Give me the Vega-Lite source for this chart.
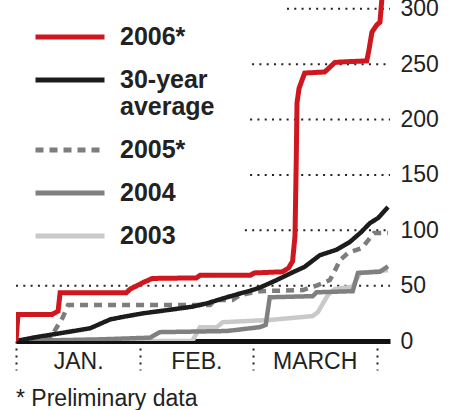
{
  "$schema": "https://vega.github.io/schema/vega-lite/v6.json",
  "width": 374,
  "height": 341,
  "autosize": {"type": "none"},
  "padding": {"left": 16, "top": 0, "right": 62, "bottom": 69},
  "background": "white",
  "config": {"view": {"stroke": null}, "font": "Liberation Sans"},
  "title": {"text": "* Preliminary data", "orient": "bottom", "anchor": "start", "frame": "group", "fontSize": 23, "fontWeight": "normal", "font": "Liberation Sans", "color": "#222", "offset": 15},
  "datasets": {
    "grid": [
      {"value": 50, "day": 0},
      {"value": 100, "day": 57.1},
      {"value": 150, "day": 58.4},
      {"value": 200, "day": 58.4},
      {"value": 250, "day": 58.9},
      {"value": 300, "day": 67.6}
    ],
    "series": [
      {"series": "2003", "day": 0, "value": 0},
      {"series": "2003", "day": 44, "value": 0},
      {"series": "2003", "day": 45.9, "value": 12.5},
      {"series": "2003", "day": 50.1, "value": 12.5},
      {"series": "2003", "day": 51.6, "value": 17},
      {"series": "2003", "day": 63.3, "value": 19},
      {"series": "2003", "day": 74, "value": 22.5},
      {"series": "2003", "day": 75.3, "value": 26},
      {"series": "2003", "day": 77.8, "value": 41.5},
      {"series": "2003", "day": 79.6, "value": 47},
      {"series": "2003", "day": 84, "value": 49},
      {"series": "2003", "day": 85.8, "value": 61.5},
      {"series": "2003", "day": 92.8, "value": 64},

      {"series": "2004", "day": 0, "value": 0},
      {"series": "2004", "day": 21, "value": 1.5},
      {"series": "2004", "day": 33.4, "value": 3},
      {"series": "2004", "day": 35.9, "value": 8},
      {"series": "2004", "day": 52.6, "value": 9},
      {"series": "2004", "day": 60.8, "value": 12.5},
      {"series": "2004", "day": 62.3, "value": 14.5},
      {"series": "2004", "day": 63.3, "value": 39.5},
      {"series": "2004", "day": 74, "value": 40.5},
      {"series": "2004", "day": 75, "value": 44},
      {"series": "2004", "day": 84, "value": 45},
      {"series": "2004", "day": 85.3, "value": 61.5},
      {"series": "2004", "day": 90.8, "value": 62.5},
      {"series": "2004", "day": 92.8, "value": 67.5},

      {"series": "2005*", "day": 0, "value": 0},
      {"series": "2005*", "day": 8.5, "value": 2.5},
      {"series": "2005*", "day": 11.7, "value": 21.5},
      {"series": "2005*", "day": 13, "value": 32.5},
      {"series": "2005*", "day": 48.4, "value": 32.5},
      {"series": "2005*", "day": 49.6, "value": 37},
      {"series": "2005*", "day": 54, "value": 37},
      {"series": "2005*", "day": 55.9, "value": 41.5},
      {"series": "2005*", "day": 60.8, "value": 45},
      {"series": "2005*", "day": 71.6, "value": 46},
      {"series": "2005*", "day": 75.3, "value": 50.5},
      {"series": "2005*", "day": 78.3, "value": 55},
      {"series": "2005*", "day": 79.6, "value": 64},
      {"series": "2005*", "day": 80.8, "value": 73},
      {"series": "2005*", "day": 82.8, "value": 79.5},
      {"series": "2005*", "day": 86.3, "value": 84},
      {"series": "2005*", "day": 88.3, "value": 93},
      {"series": "2005*", "day": 89.3, "value": 97.5},
      {"series": "2005*", "day": 92.8, "value": 97.5},

      {"series": "30-year average", "day": 0, "value": 0},
      {"series": "30-year average", "day": 5, "value": 3.5},
      {"series": "30-year average", "day": 11, "value": 7},
      {"series": "30-year average", "day": 18.5, "value": 11.5},
      {"series": "30-year average", "day": 21, "value": 15.5},
      {"series": "30-year average", "day": 23.5, "value": 19.5},
      {"series": "30-year average", "day": 27, "value": 22},
      {"series": "30-year average", "day": 31.7, "value": 25},
      {"series": "30-year average", "day": 39, "value": 28.5},
      {"series": "30-year average", "day": 44, "value": 31},
      {"series": "30-year average", "day": 47.6, "value": 34},
      {"series": "30-year average", "day": 52.6, "value": 39.5},
      {"series": "30-year average", "day": 56, "value": 43},
      {"series": "30-year average", "day": 59, "value": 46},
      {"series": "30-year average", "day": 61, "value": 48.5},
      {"series": "30-year average", "day": 65, "value": 55},
      {"series": "30-year average", "day": 69, "value": 62},
      {"series": "30-year average", "day": 72, "value": 67},
      {"series": "30-year average", "day": 75.8, "value": 77.5},
      {"series": "30-year average", "day": 80, "value": 82.5},
      {"series": "30-year average", "day": 83.3, "value": 89.5},
      {"series": "30-year average", "day": 86, "value": 98},
      {"series": "30-year average", "day": 88.3, "value": 106.5},
      {"series": "30-year average", "day": 90.3, "value": 111},
      {"series": "30-year average", "day": 92.8, "value": 121},

      {"series": "2006*", "day": 0, "value": 0},
      {"series": "2006*", "day": 0.5, "value": 24},
      {"series": "2006*", "day": 9, "value": 24},
      {"series": "2006*", "day": 10.5, "value": 27},
      {"series": "2006*", "day": 11, "value": 43.5},
      {"series": "2006*", "day": 27.5, "value": 43.5},
      {"series": "2006*", "day": 28.5, "value": 47},
      {"series": "2006*", "day": 30.5, "value": 50.5},
      {"series": "2006*", "day": 31.5, "value": 52.5},
      {"series": "2006*", "day": 34, "value": 56.5},
      {"series": "2006*", "day": 45, "value": 57},
      {"series": "2006*", "day": 46, "value": 59.5},
      {"series": "2006*", "day": 58.5, "value": 59.5},
      {"series": "2006*", "day": 59.5, "value": 61.5},
      {"series": "2006*", "day": 66.5, "value": 62.5},
      {"series": "2006*", "day": 68, "value": 66},
      {"series": "2006*", "day": 69, "value": 72},
      {"series": "2006*", "day": 69.6, "value": 95},
      {"series": "2006*", "day": 69.9, "value": 160},
      {"series": "2006*", "day": 70.1, "value": 215},
      {"series": "2006*", "day": 70.6, "value": 228},
      {"series": "2006*", "day": 72, "value": 242},
      {"series": "2006*", "day": 77, "value": 243},
      {"series": "2006*", "day": 78.5, "value": 248},
      {"series": "2006*", "day": 79.5, "value": 251.5},
      {"series": "2006*", "day": 81, "value": 252},
      {"series": "2006*", "day": 87.5, "value": 253},
      {"series": "2006*", "day": 88, "value": 262},
      {"series": "2006*", "day": 88.8, "value": 279},
      {"series": "2006*", "day": 90, "value": 285.5},
      {"series": "2006*", "day": 90.8, "value": 288},
      {"series": "2006*", "day": 91.3, "value": 310},
      {"series": "2006*", "day": 91.5, "value": 340}
    ]
  },
  "encoding": {
    "x": {"field": "day", "type": "quantitative",
      "scale": {"domain": [0, 93.3], "nice": false, "zero": false},
      "axis": {
        "title": null,
        "values": [0, 15.5, 31, 45, 59, 74.5, 90],
        "labelExpr": "datum.value == 15.5 ? 'JAN.' : datum.value == 45 ? 'FEB.' : datum.value == 74.5 ? 'MARCH' : ''",
        "tickOpacity": {"condition": {"test": "datum.value == 0 || datum.value == 31 || datum.value == 59 || datum.value == 90", "value": 1}, "value": 0},
        "tickSize": 29, "tickDash": [2, 5], "tickWidth": 2, "tickColor": "#222",
        "labelPadding": -20, "labelFontSize": 23, "labelFont": "Liberation Sans", "labelColor": "#222",
        "labelFlush": false, "labelOverlap": false,
        "domainColor": "#111", "domainWidth": 5, "grid": false
      }
    },
    "y": {"field": "value", "type": "quantitative",
      "scale": {"domain": [0, 308], "nice": false},
      "axis": {
        "orient": "right", "title": null, "values": [0, 50, 100, 150, 200, 250, 300],
        "domain": false, "ticks": false, "grid": false, "labelPadding": 10,
        "labelFontSize": 23, "labelFont": "Liberation Sans", "labelColor": "#222"
      }
    }
  },
  "layer": [
    {
      "data": {"name": "grid"},
      "mark": {"type": "rule", "stroke": "#222", "strokeWidth": 2, "strokeDash": [2, 5.3]},
      "encoding": {
        "x2": {"datum": 93.3}
      }
    },
    {
      "data": {"name": "series"},
      "transform": [{"filter": "datum.series == '2003'"}],
      "mark": {"type": "line", "strokeWidth": 4.5, "clip": true},
      "encoding": {
        "color": {"field": "series", "type": "nominal",
          "scale": {"domain": ["2006*", "30-year average", "2005*", "2004", "2003"], "range": ["#cf1720", "#1c1c1c", "#7d7d7d", "#808080", "#c9c9c9"]},
          "legend": {
            "orient": "none", "legendX": 17, "legendY": 23, "title": null, "padding": 0,
            "symbolType": "M-1,0H5", "symbolSize": 529, "symbolStrokeWidth": 5,
            "labelFontSize": 25, "labelFontWeight": "bold", "labelFont": "Liberation Sans", "labelColor": "#222",
            "labelOffset": 59, "rowPadding": 16, "labelLimit": 0,
            "labelExpr": "datum.label == '30-year average' ? ['30-year', 'average'] : datum.label"
          }
        },
        "strokeDash": {"field": "series", "type": "nominal",
          "scale": {"domain": ["2006*", "30-year average", "2005*", "2004", "2003"], "range": [[1, 0], [1, 0], [8, 6], [1, 0], [1, 0]]},
          "legend": {
            "orient": "none", "legendX": 17, "legendY": 23, "title": null, "padding": 0,
            "symbolType": "M-1,0H5", "symbolSize": 529, "symbolStrokeWidth": 5,
            "labelFontSize": 25, "labelFontWeight": "bold", "labelFont": "Liberation Sans", "labelColor": "#222",
            "labelOffset": 59, "rowPadding": 16, "labelLimit": 0,
            "labelExpr": "datum.label == '30-year average' ? ['30-year', 'average'] : datum.label"
          }
        }
      }
    },
    {
      "data": {"name": "series"},
      "transform": [{"filter": "datum.series == '2004'"}],
      "mark": {"type": "line", "strokeWidth": 4.5, "clip": true},
      "encoding": {
        "color": {"field": "series", "type": "nominal"},
        "strokeDash": {"field": "series", "type": "nominal"}
      }
    },
    {
      "data": {"name": "series"},
      "transform": [{"filter": "datum.series == '2005*'"}],
      "mark": {"type": "line", "strokeWidth": 4.5, "clip": true},
      "encoding": {
        "color": {"field": "series", "type": "nominal"},
        "strokeDash": {"field": "series", "type": "nominal"}
      }
    },
    {
      "data": {"name": "series"},
      "transform": [{"filter": "datum.series == '30-year average'"}],
      "mark": {"type": "line", "strokeWidth": 4.5, "clip": true},
      "encoding": {
        "color": {"field": "series", "type": "nominal"},
        "strokeDash": {"field": "series", "type": "nominal"}
      }
    },
    {
      "data": {"name": "series"},
      "transform": [{"filter": "datum.series == '2006*'"}],
      "mark": {"type": "line", "strokeWidth": 5, "clip": true},
      "encoding": {
        "color": {"field": "series", "type": "nominal"},
        "strokeDash": {"field": "series", "type": "nominal"}
      }
    }
  ]
}
